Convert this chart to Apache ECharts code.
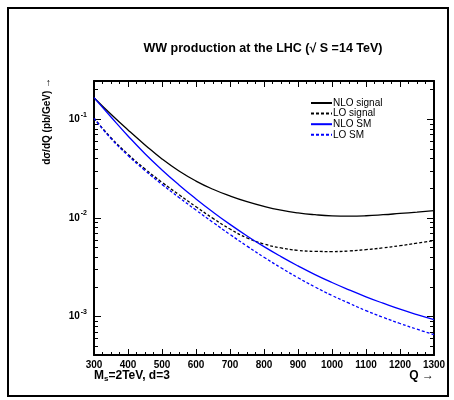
<!DOCTYPE html>
<html><head><meta charset="utf-8">
<script src="https://cdn.jsdelivr.net/npm/echarts@6/dist/echarts.min.js"></script>
<style>html,body{margin:0;padding:0;background:#fff}#c{width:454px;height:400px}</style>
</head><body><div id="c"></div>
<script>
const qValues = [300,350,400,450,500,550,600,650,700,750,800,850,900,950,1000,1050,1100,1150,1200,1250,1300];
const nloSignal = [0.1656,0.1125,0.0780,0.0550,0.0396,0.0299,0.02366,0.01954,0.01671,0.01462,0.01309,0.01199,0.01125,0.01079,0.01052,0.01045,0.01054,0.01079,0.01112,0.01146,0.01186];
const loSignal = [0.1030,0.0650,0.0442,0.0314,0.0230,0.01722,0.01300,0.00991,0.00773,0.00628,0.00545,0.00497,0.00470,0.00459,0.00457,0.00463,0.00478,0.00498,0.00524,0.00555,0.00590];
const nloSM = [0.1656,0.1054,0.0678,0.0448,0.0307,0.02163,0.01560,0.01148,0.00861,0.00658,0.00512,0.00406,0.00327,0.00267,0.00222,0.00187,0.00159,0.00137,0.00119,0.00105,0.000935];
const loSM = [0.1023,0.0638,0.0430,0.0303,0.0219,0.01614,0.01202,0.00902,0.00681,0.00519,0.00400,0.00313,0.00248,0.00200,0.00164,0.00137,0.00115,0.000986,0.000853,0.000746,0.000659];
const seriesNames = ['NLO signal','LO signal','NLO SM','LO SM'];
const yMajorTicks = [0.001,0.01,0.1];
const yMinorTicks = [0.0005,0.0006,0.0007,0.0008,0.0009,0.002,0.003,0.004,0.005,0.006,0.007,0.008,0.009,0.02,0.03,0.04,0.05,0.06,0.07,0.08,0.09,0.2];
const titleText = 'WW production at the LHC (\u221A S =14 TeV)';
const yTitle = 'd\u03C3/dQ (pb/GeV) \u2192';

const FONT = '"Liberation Sans", Arial, Helvetica, sans-serif';
const yMin = 0.000409, yMax = 0.2443;
const G = {left:94, right:20, top:81, bottom:45};
const H = 400 - G.top - G.bottom;
const chart = echarts.init(document.getElementById('c'), null, {renderer:'canvas'});
const pair = (arr) => qValues.map((q,i)=>[q,arr[i]]);
const mkY = (pos, major, labels) => ({
  type:'log', gridIndex:0, position:pos, min:yMin, max:yMax, logBase:10,
  axisLine:{show:major, onZero:false, lineStyle:{color:'#000', width:2}},
  axisTick:{show:true, inside:true, length: major?7:4, customValues: major?yMajorTicks:yMinorTicks, lineStyle:{color:'#000', width:1}},
  axisLabel:{show:labels, customValues: yMajorTicks, margin:7, fontFamily:FONT,
    formatter:function(v){const e=Math.round(Math.log10(v));return '{b|10}{s|'+e+'}';},
    rich:{b:{fontSize:10,fontWeight:'bold',fontFamily:FONT,color:'#000'},
          s:{fontSize:7,fontWeight:'bold',fontFamily:FONT,color:'#000',padding:[0,0,9,1]}}},
  splitLine:{show:false}
});
const mkXFrame = (pos, labels) => ({
  type:'value', gridIndex:0, position:pos, min:300, max:1300, interval:100,
  axisLine:{show:true, onZero:false, lineStyle:{color:'#000', width:2}},
  axisTick:{show:false}, minorTick:{show:false},
  axisLabel:{show:labels, margin:5, fontSize:10, fontWeight:'bold', color:'#000', fontFamily:FONT,
    formatter:function(v){return String(v);}},
  splitLine:{show:false}
});
// thin strip grids along the top and bottom edges; their split lines act as the inward tick marks
const strips = [
  {top:400-G.bottom-6, bottom:G.bottom, major:true},
  {top:400-G.bottom-3, bottom:G.bottom, major:false},
  {top:G.top, bottom:400-G.top-6, major:true},
  {top:G.top, bottom:400-G.top-3, major:false}
];
const grids = [Object.assign({containLabel:false}, G)].concat(strips.map(s=>({left:G.left, right:G.right, top:s.top, bottom:s.bottom, containLabel:false})));
const stripX = strips.map((s,i)=>({
  type:'value', gridIndex:i+1, min:300, max:1300, interval:100,
  axisLine:{show:false}, axisTick:{show:false}, axisLabel:{show:false},
  splitLine:{show:s.major, lineStyle:{color:'#000', width:1}},
  minorTick:{show:false, splitNumber:4},
  minorSplitLine:{show:!s.major, lineStyle:{color:'#000', width:1}}
}));
const stripY = strips.map((s,i)=>({
  type:'value', gridIndex:i+1, min:0, max:1,
  axisLine:{show:false}, axisTick:{show:false}, axisLabel:{show:false}, splitLine:{show:false}
}));
const lineS = (name, data, color, dashed) => ({
  name, type:'line', data:pair(data), xAxisIndex:0, yAxisIndex:0,
  symbol:'none', smooth:true, silent:true, z:3,
  lineStyle:{color, width:1.3, type: dashed?[3,2]:'solid'},
  itemStyle:{color}
});
chart.setOption({
  animation:false,
  backgroundColor:'#fff',
  grid:grids,
  title:{text:titleText, left:258, top:37, textAlign:'center',
    textStyle:{fontSize:12.5, fontWeight:'bold', color:'#000', fontFamily:FONT}},
  legend:{orient:'vertical', left:310, top:98, itemWidth:21, itemHeight:10, itemGap:0.6, padding:0,
    data:seriesNames, itemStyle:{opacity:0},
    textStyle:{fontSize:10, lineHeight:10, color:'#000', fontFamily:FONT, padding:[0,0,0,-4]}},
  xAxis:[mkXFrame('bottom', true), mkXFrame('top', false)].concat(stripX),
  yAxis:[mkY('left', true, true), mkY('left', false, false), mkY('right', true, false), mkY('right', false, false)].concat(stripY),
  series:[
    lineS(seriesNames[0], nloSignal, '#000', false),
    lineS(seriesNames[1], loSignal, '#000', true),
    lineS(seriesNames[2], nloSM, '#0000ff', false),
    lineS(seriesNames[3], loSM, '#0000ff', true)
  ],
  graphic:[
    {type:'rect', shape:{x:8, y:8, width:440, height:388}, style:{fill:'none', stroke:'#000', lineWidth:2}, silent:true},
    {type:'text', x:47, y:78, rotation:Math.PI/2,
      style:{text:yTitle, font:'bold 10px '+FONT, fill:'#000', align:'right', verticalAlign:'middle'}},
    {type:'text', x:94, y:376,
      style:{text:'{b|M}{sub|s}{b|=2TeV, d=3}', font:'bold 12px '+FONT, fill:'#000', verticalAlign:'middle',
        rich:{b:{fontSize:12,fontWeight:'bold',fontFamily:FONT,fill:'#000'},
              sub:{fontSize:8,fontWeight:'bold',fontFamily:FONT,fill:'#000',padding:[5,0,0,0]}}}},
    {type:'text', x:434, y:376,
      style:{text:'Q \u2192', font:'bold 12px '+FONT, fill:'#000', align:'right', verticalAlign:'middle'}}
  ]
});
</script></body></html>
